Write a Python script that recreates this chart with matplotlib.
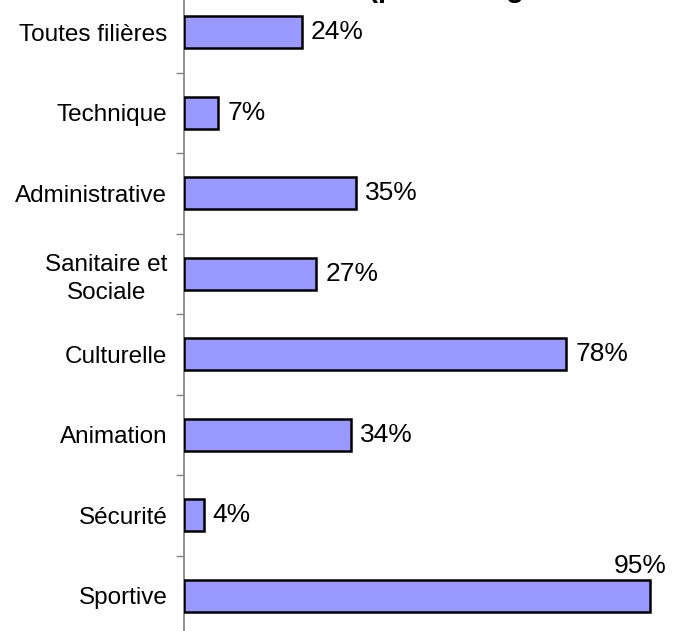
import matplotlib
matplotlib.use("Agg")
import matplotlib.pyplot as plt

categories = ["Toutes filières", "Technique", "Administrative", "Sanitaire et\nSociale",
              "Culturelle", "Animation", "Sécurité", "Sportive"]
values = [24, 7, 35, 27, 78, 34, 4, 95]
value_labels = ["24%", "7%", "35%", "27%", "78%", "34%", "4%", "95%"]
title = "Taux d'encadrement (par des agents titulaires)"

plt.rcParams['font.family'] = ['Liberation Sans', 'DejaVu Sans']

W, H = 673, 631
fig = plt.figure(figsize=(W / 100, H / 100), dpi=100)
ax_left = 184 / W
ax_right = 674 / W
ax_top = 1 + 8 / H
ax_bottom = -5 / H
ax = fig.add_axes([ax_left, ax_bottom, ax_right - ax_left, ax_top - ax_bottom])

n = len(categories)
ypos = list(range(n))
ax.barh(ypos, values, height=0.4, color="#9999FF", edgecolor="black", linewidth=1.8, zorder=3)
ax.set_xlim(0, 100)
ax.set_ylim(n - 0.5, -0.5)

ax.set_yticks(ypos)
ax.set_yticklabels(categories, fontsize=17.5, linespacing=1.35)
ax.set_yticks([i + 0.5 for i in range(-1, n)], minor=True)
ax.tick_params(axis='y', which='major', length=0, pad=12)
ax.tick_params(axis='y', which='minor', length=6, width=1, color="#808080", direction='out')
for lbl in ax.get_yticklabels():
    lbl.set_horizontalalignment('right')
    lbl.set_multialignment('center')
ax.set_xticks([])
for s in ["top", "right", "bottom"]:
    ax.spines[s].set_visible(False)
ax.spines["left"].set_color("#808080")
ax.spines["left"].set_linewidth(1.2)

for i, (v, lab) in enumerate(zip(values, value_labels)):
    if i == n - 1:
        ax.annotate(lab, (v, i), xytext=(17, 30), textcoords='offset pixels',
                    ha='right', va='center', fontsize=19)
    else:
        ax.annotate(lab, (v, i), xytext=(9, 0), textcoords='offset pixels',
                    ha='left', va='center', fontsize=19)

fig.text(80 / W, 1 + 3 / H, title, fontsize=21, fontweight='bold', ha='left', va='baseline')

fig.savefig("out.png", dpi=100)
